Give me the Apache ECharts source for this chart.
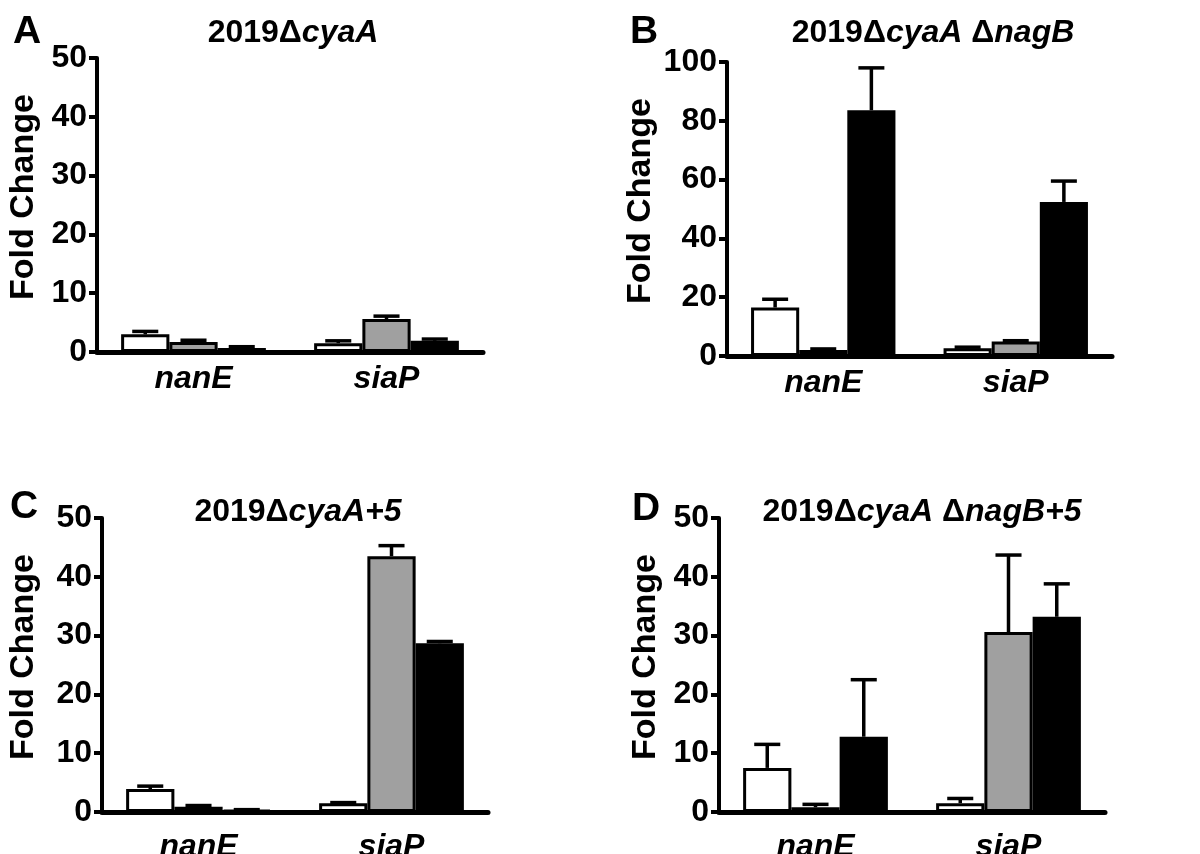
<!DOCTYPE html>
<html>
<head>
<meta charset="utf-8">
<script src="https://cdn.jsdelivr.net/npm/echarts@6/dist/echarts.min.js"></script>
<style>
html,body{margin:0;padding:0;background:#fff;}
#chart{width:1200px;height:854px;}
</style>
</head>
<body>
<div id="chart"></div>
<script>
// ---- data ----
const categories = ['nanE', 'siaP'];
const panelLetters = ['A', 'B', 'C', 'D'];
const yMax = [50, 100, 50, 50];
const yInterval = [10, 20, 10, 10];
// per panel (A,B,C,D): [nanE, siaP]
const whiteMeans = [[3.0, 1.5], [16.5, 2.6], [3.9, 1.5], [7.5, 1.5]];
const whiteErr   = [[0.5, 0.4], [2.8, 0.4], [0.5, 0.1], [4.0, 0.8]];
const grayMeans  = [[1.7, 5.6], [2.0, 4.9], [0.9, 43.5], [0.8, 30.6]];
const grayErr    = [[0.3, 0.5], [0.4, 0.3], [0.2, 1.8], [0.5, 13.1]];
const blackMeans = [[0.7, 1.9], [83.6, 52.4], [0.3, 28.7], [12.8, 33.2]];
const blackErr   = [[0.2, 0.3], [14.4, 7.1], [0.1, 0.3], [9.7, 5.6]];

// ---- layout ----
const FONT = "'Liberation Sans', Arial, Helvetica, sans-serif";
const grids = [
  {left: 97, top: 58, width: 386, height: 294, outerBoundsMode: 'none'},
  {left: 727, top: 62, width: 385, height: 294, outerBoundsMode: 'none'},
  {left: 102, top: 518, width: 386, height: 294, outerBoundsMode: 'none'},
  {left: 719, top: 518, width: 386, height: 294, outerBoundsMode: 'none'}
];
const titleTexts = [
  '{n|2019\u0394}{i|cyaA}',
  '{n|2019\u0394}{i|cyaA} {n|\u0394}{i|nagB}',
  '{n|2019\u0394}{i|cyaA+5}',
  '{n|2019\u0394}{i|cyaA} {n|\u0394}{i|nagB+5}'
];
const titlePos = [[288, 12], [928, 12], [293, 491], [917, 491]];
const letterPos = [[8, 8], [625, 8], [5, 483], [627, 485]];
const nameGaps = [56, 69, 61, 56];
const labelMargins = [11, 11, 19, 19];

const BAR_GAP = 0.25;
const fills = ['#ffffff', '#a0a0a0', '#000000'];
const meansList = [whiteMeans, grayMeans, blackMeans];
const errList = [whiteErr, grayErr, blackErr];

const titles = [];
const xAxes = [], yAxes = [], series = [];
for (let p = 0; p < 4; p++) {
  titles.push({
    text: titleTexts[p], left: titlePos[p][0], top: titlePos[p][1], textAlign: 'center',
    textStyle: {
      fontFamily: FONT, fontSize: 32, fontWeight: 'bold', color: '#000',
      rich: {
        n: {fontFamily: FONT, fontSize: 32, fontWeight: 'bold', color: '#000'},
        i: {fontFamily: FONT, fontSize: 32, fontWeight: 'bold', fontStyle: 'italic', color: '#000'}
      }
    }
  });
  titles.push({
    text: panelLetters[p], left: letterPos[p][0], top: letterPos[p][1],
    textStyle: {fontFamily: FONT, fontSize: 39, fontWeight: 'bold', color: '#000'}
  });
  xAxes.push({
    type: 'category', gridIndex: p, data: categories,
    axisLine: {lineStyle: {color: '#000', width: 5}},
    axisTick: {show: false},
    axisLabel: {fontFamily: FONT, fontSize: 32, fontWeight: 'bold', fontStyle: 'italic', color: '#000', margin: labelMargins[p]}
  });
  yAxes.push({
    type: 'value', gridIndex: p, min: 0, max: yMax[p], interval: yInterval[p],
    name: 'Fold Change', nameLocation: 'middle', nameGap: nameGaps[p], nameRotate: 90,
    nameTextStyle: {fontFamily: FONT, fontSize: 34, fontWeight: 'bold', color: '#000', padding: [0, 0, 0, 16]},
    axisLine: {show: true, lineStyle: {color: '#000', width: 4}},
    axisTick: {show: true, length: 8, lineStyle: {color: '#000', width: 4}},
    axisLabel: {fontFamily: FONT, fontSize: 32, fontWeight: 'bold', color: '#000', margin: 10},
    splitLine: {show: false}
  });
  for (let s = 0; s < 3; s++) {
    series.push({
      type: 'bar', xAxisIndex: p, yAxisIndex: p,
      data: meansList[s][p],
      barGap: '0%', barCategoryGap: (BAR_GAP * 100) + '%',
      itemStyle: {color: fills[s], borderColor: '#000', borderWidth: 3},
      silent: true, animation: false
    });
  }
  for (let s = 0; s < 3; s++) {
    const data = categories.map((c, k) => [k, meansList[s][p][k], errList[s][p][k]]);
    series.push({
      type: 'custom', xAxisIndex: p, yAxisIndex: p, z: 5,
      data: data, encode: {x: 0, y: 1}, silent: true, animation: false,
      renderItem: (function (sIdx) {
        return function (params, api) {
          const k = api.value(0), v = api.value(1), e = api.value(2);
          const band = api.size([1, 0])[0];
          const bw = band * (1 - BAR_GAP) / 3;
          const cx = api.coord([k, 0])[0] + (sIdx - 1) * bw;
          const yb = api.coord([k, v])[1];
          const yt = api.coord([k, v + e])[1];
          const half = bw * 0.27;
          const st = {stroke: '#000', lineWidth: 3.5};
          return {
            type: 'group', children: [
              {type: 'line', shape: {x1: cx, y1: yb, x2: cx, y2: yt}, style: st},
              {type: 'line', shape: {x1: cx - half, y1: yt, x2: cx + half, y2: yt}, style: st}
            ]
          };
        };
      })(s)
    });
  }
}

const chart = echarts.init(document.getElementById('chart'), null, {renderer: 'canvas'});
chart.setOption({
  backgroundColor: '#fff',
  animation: false,
  title: titles,
  grid: grids,
  xAxis: xAxes,
  yAxis: yAxes,
  series: series
});
</script>
</body>
</html>
